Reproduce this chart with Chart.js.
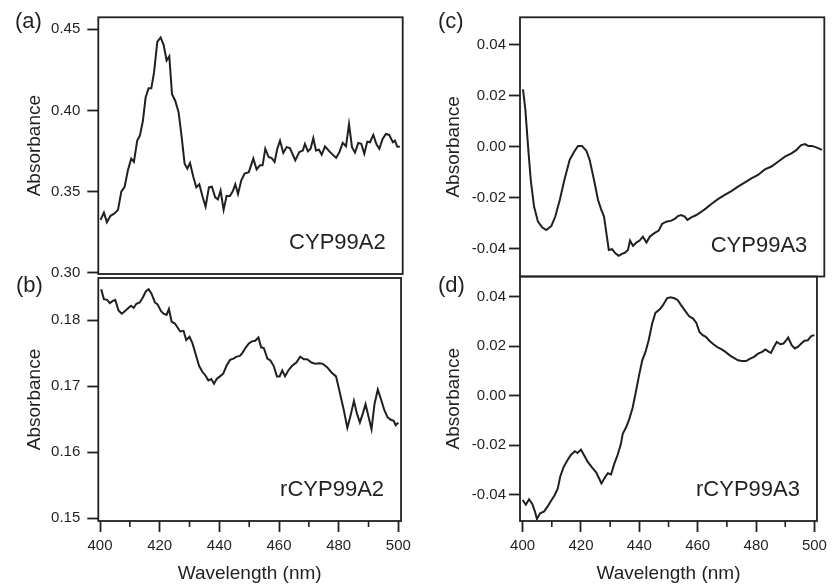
<!DOCTYPE html>
<html>
<head>
<meta charset="utf-8">
<script src="https://cdn.jsdelivr.net/npm/chart.js@4.4.1/dist/chart.umd.min.js"></script>
<style>
  body { margin: 0; background: #fff; }
  canvas { position: absolute; }
</style>
</head>
<body>
<canvas id="chartA" width="416" height="290" style="left:0;top:0"></canvas>
<canvas id="chartB" width="416" height="323" style="left:0;top:262px"></canvas>
<canvas id="chartC" width="416" height="290" style="left:416px;top:0"></canvas>
<canvas id="chartD" width="416" height="323" style="left:416px;top:262px"></canvas>
<script>
// (a) CYP99A2
const wlA = [400.2,401.3,402.3,403.5,404.9,406.0,407.1,408.2,409.3,410.4,411.3,412.4,413.3,414.3,415.2,416.2,417.1,418.0,419.1,420.2,
  421.2,422.2,423.1,424.0,425.1,426.2,427.1,428.2,429.1,430.0,431.1,432.1,433.1,434.2,435.2,436.3,437.3,438.4,439.3,440.2,
  441.2,442.2,443.3,444.2,445.1,446.0,447.1,448.2,449.6,451.1,452.2,453.3,454.2,455.1,456.2,457.2,458.2,459.1,460.0,461.1,
  462.2,463.3,465.1,466.4,467.6,468.3,469.3,470.2,471.1,472.0,473.0,473.9,475.0,476.7,478.7,479.8,480.9,482.0,483.0,484.0,
  485.0,486.1,487.1,488.1,489.1,490.0,491.1,492.2,493.1,494.2,495.3,496.4,497.6,498.3,499.1,500.0];
const absA = [0.3326,0.3371,0.3312,0.3351,0.3367,0.3388,0.3500,0.3530,0.3631,0.3703,0.3683,0.3814,0.3845,0.3936,0.4079,0.4136,0.4136,0.4232,0.4421,0.4449,
  0.4404,0.4307,0.4333,0.4100,0.4058,0.3988,0.3855,0.3672,0.3642,0.3676,0.3591,0.3526,0.3545,0.3469,0.3408,0.3526,0.3530,0.3465,0.3453,0.3506,
  0.3388,0.3473,0.3473,0.3500,0.3545,0.3485,0.3570,0.3611,0.3620,0.3703,0.3637,0.3662,0.3662,0.3764,0.3713,0.3707,0.3683,0.3764,0.3814,0.3738,
  0.3774,0.3768,0.3692,0.3743,0.3753,0.3794,0.3748,0.3764,0.3829,0.3753,0.3758,0.3727,0.3778,0.3743,0.3707,0.3743,0.3800,0.3779,0.3916,0.3774,
  0.3740,0.3800,0.3794,0.3733,0.3808,0.3804,0.3849,0.3789,0.3764,0.3824,0.3855,0.3849,0.3804,0.3814,0.3776,0.3777];

// (b) rCYP99A2
const wlB = [400.4,401.3,402.4,403.3,404.2,405.1,406.2,407.3,408.4,409.6,410.4,411.3,412.2,413.3,414.3,415.4,416.3,417.3,418.4,419.3,
  420.4,421.3,422.3,423.1,424.0,425.1,426.0,426.9,428.0,428.9,430.0,431.0,432.1,433.2,434.3,435.4,436.3,437.3,438.2,439.1,
  440.2,441.3,442.4,443.6,444.7,445.8,446.9,447.8,448.9,449.9,450.9,452.0,453.1,454.0,454.9,456.1,457.1,458.2,459.3,460.2,
  461.1,462.0,463.1,464.4,465.8,467.1,468.3,469.4,470.9,472.2,473.6,474.7,476.1,477.6,479.1,480.2,481.7,482.9,484.0,485.1,
  486.1,487.1,488.1,489.0,490.0,491.0,492.0,493.1,494.2,495.3,496.4,497.6,498.4,499.1,500.0];
const absB = [0.1847,0.1832,0.1831,0.1826,0.1829,0.1831,0.1815,0.1810,0.1814,0.1819,0.1822,0.1819,0.1825,0.1827,0.1834,0.1844,0.1847,0.1840,0.1827,0.1824,
  0.1814,0.1810,0.1808,0.1817,0.1798,0.1795,0.1789,0.1783,0.1784,0.1770,0.1775,0.1765,0.1748,0.1731,0.1722,0.1716,0.1709,0.1711,0.1704,0.1711,
  0.1715,0.1719,0.1731,0.1740,0.1742,0.1745,0.1746,0.1751,0.1759,0.1765,0.1768,0.1769,0.1774,0.1759,0.1758,0.1742,0.1739,0.1731,0.1715,0.1715,
  0.1724,0.1715,0.1724,0.1731,0.1736,0.1745,0.1741,0.1741,0.1736,0.1734,0.1735,0.1734,0.1729,0.1721,0.1715,0.1694,0.1664,0.1637,0.1656,0.1678,
  0.1659,0.1645,0.1659,0.1673,0.1654,0.1635,0.1673,0.1695,0.1680,0.1664,0.1653,0.1649,0.1648,0.1641,0.1645];

// (c) CYP99A3
const wlC = [400.1,400.9,401.8,402.7,403.8,405.1,406.5,407.9,409.6,410.9,412.4,414.0,415.7,417.2,418.5,419.8,421.3,422.4,423.8,425.2,
  426.3,427.2,428.0,428.8,429.9,431.0,432.1,433.2,434.3,435.2,435.9,436.9,438.0,439.1,440.2,441.4,442.5,443.9,445.5,446.6,
  448.0,449.7,451.1,451.9,453.0,454.2,455.1,456.4,458.1,459.8,461.4,463.1,465.3,467.6,469.8,472.0,474.2,476.5,478.7,481.0,
  483.2,485.4,487.7,489.9,491.6,493.0,494.4,495.5,496.8,498.2,500.1];
const absC = [0.0225,0.0144,0.0000,-0.0131,-0.0235,-0.0294,-0.0316,-0.0327,-0.0311,-0.0274,-0.0209,-0.0128,-0.0052,-0.0020,0.0003,0.0003,-0.0016,-0.0052,-0.0128,-0.0209,
  -0.0248,-0.0274,-0.0340,-0.0405,-0.0402,-0.0418,-0.0428,-0.0420,-0.0415,-0.0405,-0.0368,-0.0389,-0.0376,-0.0368,-0.0353,-0.0376,-0.0353,-0.0340,-0.0329,-0.0303,
  -0.0294,-0.0290,-0.0281,-0.0272,-0.0268,-0.0274,-0.0287,-0.0277,-0.0268,-0.0255,-0.0241,-0.0225,-0.0206,-0.0189,-0.0174,-0.0157,-0.0141,-0.0124,-0.0111,-0.0089,
  -0.0078,-0.0059,-0.0039,-0.0026,-0.0013,0.0005,0.0010,0.0003,0.0003,-0.0003,-0.0013];

// (d) rCYP99A3
const wlD = [400.0,401.1,402.2,403.3,404.2,404.9,406.0,407.4,408.5,409.6,410.9,412.0,412.9,414.0,415.4,416.6,417.9,418.8,420.0,421.1,
  422.4,423.9,425.2,426.3,427.0,428.1,429.2,430.3,431.4,432.6,433.7,434.3,435.5,436.6,437.7,438.8,439.9,441.0,442.1,443.2,
  444.4,445.5,447.0,448.1,449.5,450.6,452.0,453.1,454.3,455.7,457.0,458.4,459.5,460.6,461.7,462.8,464.0,465.4,466.9,468.2,
  469.5,471.0,472.4,473.8,475.1,476.6,478.0,479.3,480.7,482.1,483.2,484.4,485.1,486.0,487.1,488.3,489.4,490.3,491.0,492.2,
  493.3,494.4,495.5,496.6,497.7,498.9,500.0];
const absD = [-0.0422,-0.0441,-0.0419,-0.0438,-0.0468,-0.0499,-0.0476,-0.0468,-0.0449,-0.0428,-0.0404,-0.0377,-0.0327,-0.0290,-0.0260,-0.0239,-0.0225,-0.0232,-0.0218,-0.0242,
  -0.0269,-0.0292,-0.0310,-0.0337,-0.0355,-0.0333,-0.0314,-0.0319,-0.0276,-0.0238,-0.0195,-0.0154,-0.0127,-0.0093,-0.0049,0.0015,0.0082,0.0143,0.0177,0.0224,
  0.0292,0.0335,0.0349,0.0366,0.0394,0.0398,0.0394,0.0387,0.0366,0.0343,0.0322,0.0312,0.0295,0.0258,0.0245,0.0238,0.0222,0.0208,0.0195,0.0187,
  0.0177,0.0163,0.0153,0.0143,0.0140,0.0140,0.0150,0.0157,0.0170,0.0177,0.0187,0.0177,0.0173,0.0195,0.0217,0.0208,0.0211,0.0224,0.0235,0.0204,
  0.0191,0.0198,0.0211,0.0222,0.0224,0.0241,0.0245];

const xMajorTicks = 20;
const xMinorTicks = [410, 430, 450, 470, 490];

const ink = '#231f20';
Chart.defaults.font.family = '"Liberation Sans", Arial, Helvetica, sans-serif';
Chart.defaults.color = ink;

// frame, minor ticks and the in-panel labels
const panelDeco = {
  id: 'panelDeco',
  afterDraw(chart, args, o) {
    const { ctx, chartArea: a } = chart;
    ctx.save();
    ctx.strokeStyle = ink;
    ctx.lineWidth = 1.8;
    ctx.strokeRect(a.left, a.top, a.right - a.left, a.bottom - a.top);
    if (o.minor) {
      const xs = chart.scales.x;
      ctx.lineWidth = 1.6;
      ctx.beginPath();
      o.minor.forEach(v => {
        const px = xs.getPixelForValue(v);
        ctx.moveTo(px, a.bottom);
        ctx.lineTo(px, a.bottom + 6);
      });
      ctx.stroke();
    }
    ctx.fillStyle = ink;
    ctx.font = '22px "Liberation Sans", Arial, sans-serif';
    ctx.textBaseline = 'alphabetic';
    ctx.textAlign = 'right';
    ctx.fillText(o.name, a.right - 17, a.bottom - 25);
    ctx.textAlign = 'left';
    ctx.fillText(o.letter, o.lx, o.ly);
    ctx.restore();
  }
};

function fmt(v) {
  if (Math.abs(v) < 1e-9) return '0.00';
  return v.toFixed(2);
}

function makePanel(id, p) {
  new Chart(document.getElementById(id), {
    type: 'line',
    data: {
      datasets: [{
        data: p.wl.map((x, i) => ({ x: x, y: p.abs[i] })),
        borderColor: ink,
        borderWidth: 2,
        pointRadius: 0,
        tension: 0
      }]
    },
    options: {
      responsive: false,
      animation: false,
      layout: { autoPadding: false, padding: p.pad },
      plugins: {
        legend: { display: false },
        tooltip: { enabled: false },
        panelDeco: { name: p.name, letter: p.letter, lx: p.lx, ly: p.ly, minor: p.showX ? xMinorTicks : null }
      },
      scales: {
        x: {
          type: 'linear',
          min: p.xmin, max: p.xmax,
          display: p.showX,
          afterFit: s => { s.height = p.showX ? 64 : 0; },
          border: { display: false },
          grid: { drawOnChartArea: false, drawTicks: true, tickLength: 11, tickWidth: 1.8, tickColor: ink },
          ticks: { stepSize: xMajorTicks, includeBounds: false, padding: 5, font: { size: 15 }, color: ink, maxRotation: 0 },
          title: { display: true, text: 'Wavelength (nm)', font: { size: 19 }, color: ink, padding: { top: 6, bottom: 0 } }
        },
        y: {
          min: p.ymin, max: p.ymax,
          afterFit: s => { s.width = p.yw; },
          border: { display: false },
          grid: { drawOnChartArea: false, drawTicks: true, tickLength: 11, tickWidth: 1.8, tickColor: ink },
          ticks: { stepSize: p.ystep, includeBounds: false, padding: p.ypad, font: { size: 15 }, color: ink, callback: fmt },
          title: { display: true, text: 'Absorbance', font: { size: 19 }, color: ink, padding: { top: p.tpad, bottom: 0 } }
        }
      }
    },
    plugins: [panelDeco]
  });
}

makePanel('chartA', {
  wl: wlA, abs: absA, name: 'CYP99A2', letter: '(a)', lx: 15, ly: 28,
  showX: false, xmin: 399.43, xmax: 500.9, ymin: 0.2993, ymax: 0.4573, ystep: 0.05,
  yw: 98.3, ypad: 7, tpad: 23.6, pad: { top: 17.3, right: 13.3, bottom: 13.5, left: 0 }
});
makePanel('chartB', {
  wl: wlB, abs: absB, name: 'rCYP99A2', letter: '(b)', lx: 16, ly: 30,
  showX: true, xmin: 399.43, xmax: 500.9, ymin: 0.1496, ymax: 0.1864, ystep: 0.01,
  yw: 98.3, ypad: 7, tpad: 23.6, pad: { top: 14.5, right: 13.3, bottom: 0, left: 0 }
});
makePanel('chartC', {
  wl: wlC, abs: absC, name: 'CYP99A3', letter: '(c)', lx: 22, ly: 28,
  showX: false, xmin: 399.1, xmax: 500.87, ymin: -0.0509, ymax: 0.0507, ystep: 0.02,
  yw: 104, ypad: 3, tpad: 26.6, pad: { top: 17.3, right: 7.7, bottom: 13.5, left: 0 }
});
makePanel('chartD', {
  wl: wlD, abs: absD, name: 'rCYP99A3', letter: '(d)', lx: 22, ly: 30,
  showX: true, xmin: 399.1, xmax: 500.87, ymin: -0.0507, ymax: 0.0482, ystep: 0.02,
  yw: 104, ypad: 3, tpad: 26.6, pad: { top: 14.5, right: 7.7, bottom: 0, left: 0 }
});
</script>
</body>
</html>
